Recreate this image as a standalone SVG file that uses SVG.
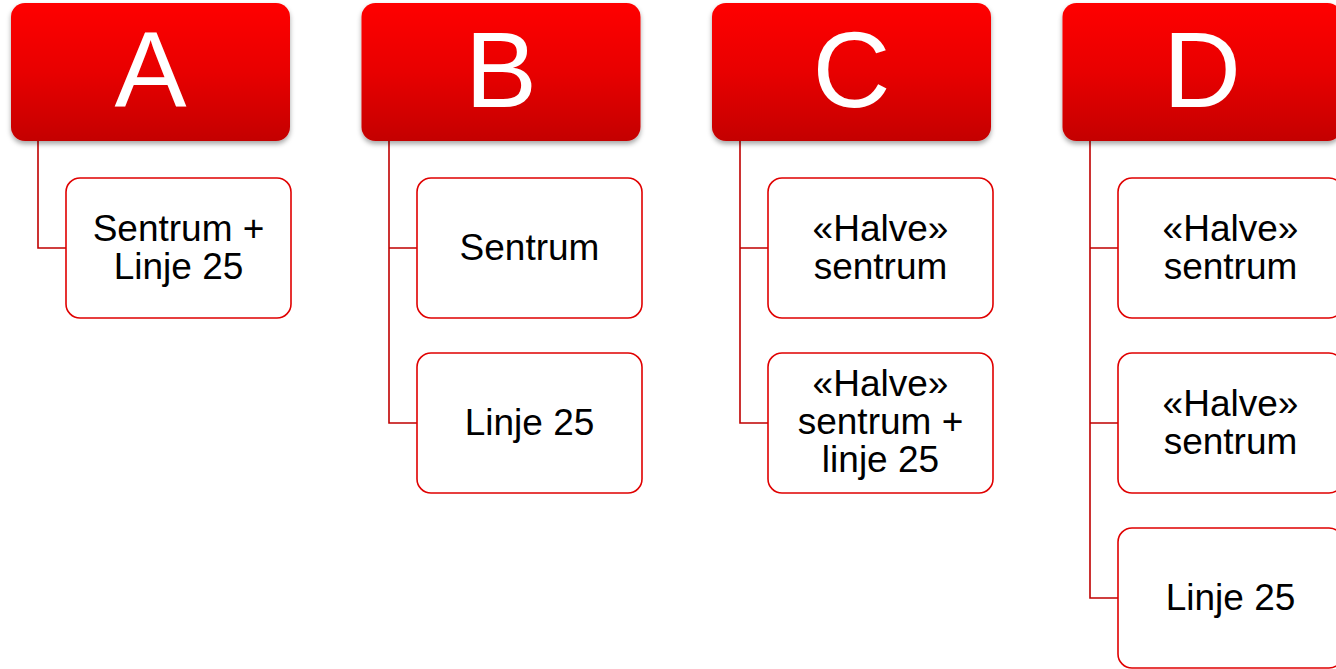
<svg xmlns="http://www.w3.org/2000/svg" width="1336" height="669" viewBox="0 0 1336 669">
<defs>
<linearGradient id="hg" x1="0" y1="0" x2="0" y2="1">
<stop offset="0" stop-color="#ff0000"/>
<stop offset="0.5" stop-color="#e80000"/>
<stop offset="1" stop-color="#c40000"/>
</linearGradient>
<filter id="sh" x="-10%" y="-10%" width="120%" height="130%">
<feDropShadow dx="0" dy="3" stdDeviation="2.5" flood-color="#000" flood-opacity="0.35"/>
</filter>
</defs>
<style>
.h{fill:url(#hg);filter:url(#sh)}
.ht{font-family:"Liberation Sans",Arial,sans-serif;font-size:108px;fill:#fff;text-anchor:middle}
.c{fill:#fff;stroke:#e00000;stroke-width:1.6}
.ct{font-family:"Liberation Sans",Arial,sans-serif;font-size:37px;fill:#000;text-anchor:middle}
.ln{fill:none;stroke:#c00000;stroke-width:1.6}
</style>
<rect width="1336" height="669" fill="#fff"/>
<g id="connectors">
<path class="ln" d="M38,141 V248 H66"/>
<path class="ln" d="M389,141 V423 H417 M389,248 H417"/>
<path class="ln" d="M740,141 V423 H768 M740,248 H768"/>
<path class="ln" d="M1090,141 V598 H1118 M1090,248 H1118 M1090,423 H1118"/>
</g>
<g id="hA"><rect class="h" x="11" y="3" width="279" height="138" rx="14"/><text class="ht" x="150.5" y="107">A</text></g>
<g id="hB"><rect class="h" x="361.5" y="3" width="279" height="138" rx="14"/><text class="ht" x="501" y="107">B</text></g>
<g id="hC"><rect class="h" x="712" y="3" width="279" height="138" rx="14"/><text class="ht" x="851.5" y="107">C</text></g>
<g id="hD"><rect class="h" x="1062.5" y="3" width="279" height="138" rx="14"/><text class="ht" x="1202" y="107">D</text></g>
<g id="a1"><rect class="c" x="66" y="178" width="225" height="140" rx="14"/><text class="ct" x="178.5" y="241">Sentrum +</text><text class="ct" x="178.5" y="279">Linje 25</text></g>
<g id="b1"><rect class="c" x="417" y="178" width="225" height="140" rx="14"/><text class="ct" x="529.5" y="260">Sentrum</text></g>
<g id="b2"><rect class="c" x="417" y="353" width="225" height="140" rx="14"/><text class="ct" x="529.5" y="435">Linje 25</text></g>
<g id="c1"><rect class="c" x="768" y="178" width="225" height="140" rx="14"/><text class="ct" x="880.5" y="241">«Halve»</text><text class="ct" x="880.5" y="279">sentrum</text></g>
<g id="c2"><rect class="c" x="768" y="353" width="225" height="140" rx="14"/><text class="ct" x="880.5" y="396">«Halve»</text><text class="ct" x="880.5" y="434">sentrum +</text><text class="ct" x="880.5" y="472">linje 25</text></g>
<g id="d1"><rect class="c" x="1118" y="178" width="225" height="140" rx="14"/><text class="ct" x="1230.5" y="241">«Halve»</text><text class="ct" x="1230.5" y="279">sentrum</text></g>
<g id="d2"><rect class="c" x="1118" y="353" width="225" height="140" rx="14"/><text class="ct" x="1230.5" y="416">«Halve»</text><text class="ct" x="1230.5" y="454">sentrum</text></g>
<g id="d3"><rect class="c" x="1118" y="528" width="225" height="140" rx="14"/><text class="ct" x="1230.5" y="610">Linje 25</text></g>
</svg>
